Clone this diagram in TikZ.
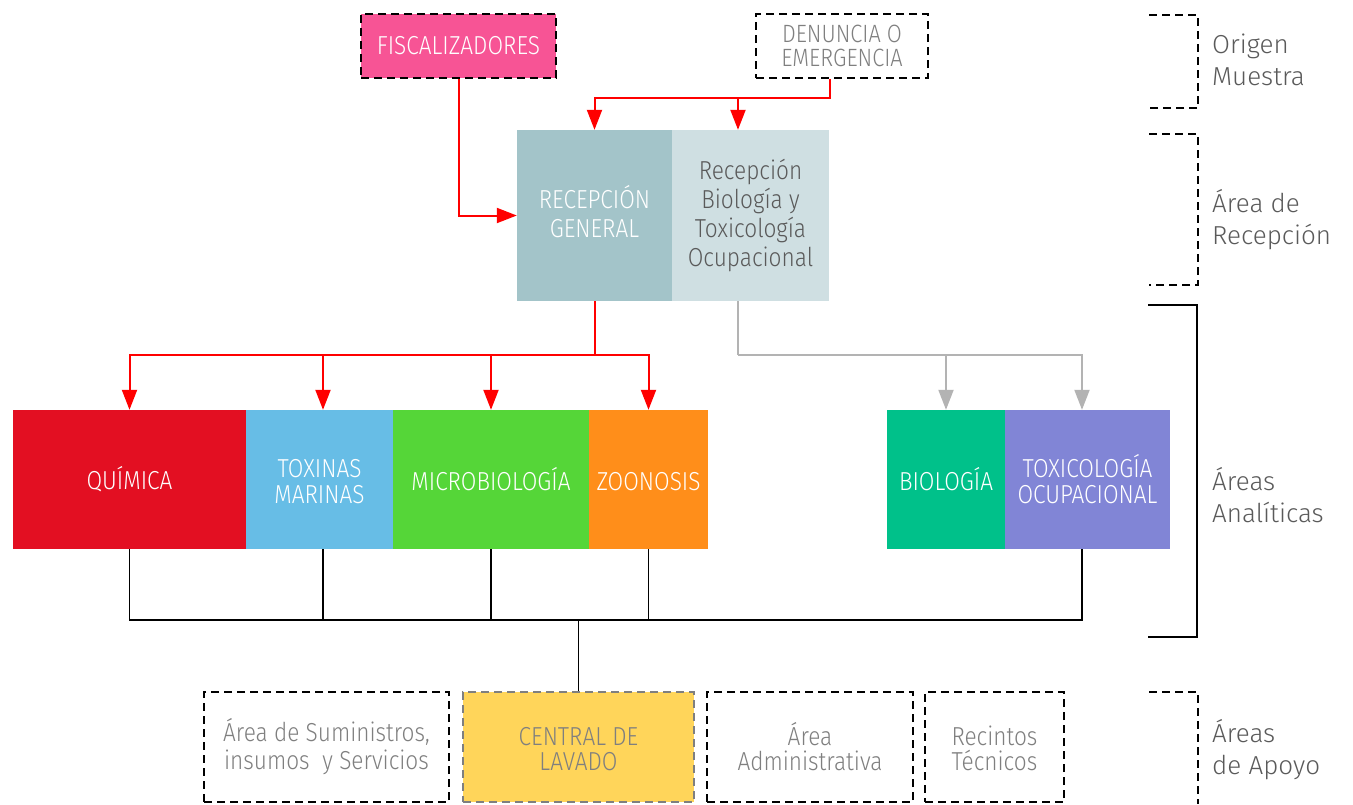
\documentclass[tikz,border=0pt]{standalone}
\usepackage{fontspec}
\setmainfont{Fira Sans Light}
\newfontfamily\boxfont[FakeStretch=0.87]{Fira Sans Light}
\usetikzlibrary{arrows.meta}

\definecolor{fispink}{HTML}{F75495}
\definecolor{recdark}{HTML}{A3C4C9}
\definecolor{reclight}{HTML}{CFDFE2}
\definecolor{quired}{HTML}{E30F22}
\definecolor{toxblue}{HTML}{67BDE6}
\definecolor{micgreen}{HTML}{55D638}
\definecolor{zooorange}{HTML}{FF8E1A}
\definecolor{bioteal}{HTML}{00C18A}
\definecolor{toxpurple}{HTML}{8185D6}
\definecolor{lavyellow}{HTML}{FFD55A}
\definecolor{arrowred}{HTML}{FF0000}
\definecolor{arrowgray}{HTML}{B3B3B3}
\definecolor{textgray}{HTML}{7F7F7F}
\definecolor{darktext}{HTML}{5A5A5A}

% raises the first line to accent height so capitals sit a little low
\newcommand\acc{\vphantom{Á}}
% extra depth on the last line lifts a text block
\newcommand\lift[1]{\rule[-#1]{0pt}{#1}}

\tikzset{
  area/.style={rectangle, inner sep=0pt, align=center, text=white,
    font=\boxfont\fontsize{26}{26}\selectfont},
  dbox/.style={area, draw=black, line width=2pt, dash pattern=on 8pt off 5pt, text=textgray},
  redln/.style={draw=arrowred, line width=2pt},
  redarr/.style={redln, -{Triangle[length=20pt,width=15pt]}},
  grayln/.style={draw=arrowgray, line width=2pt},
  grayarr/.style={grayln, -{Triangle[length=20pt,width=15pt]}},
  bus/.style={draw=black, line width=1.5pt},
  bracketd/.style={draw=black, line width=2pt, dash pattern=on 8pt off 5pt},
  brackets/.style={draw=black, line width=1.5pt},
  sidelabel/.style={anchor=west, align=left, inner sep=0pt, text=darktext,
    font=\fontsize{26}{32}\selectfont}
}

\begin{document}
\begin{tikzpicture}[x=1pt,y=-1pt]
\useasboundingbox (0,0) rectangle (1353,804);

% origin of samples
\node[dbox, fill=fispink, text=white, minimum width=195pt, minimum height=64pt] (fis) at (458.5,46) {FISCALIZADORES};
\node[dbox, fill=white, minimum width=172pt, minimum height=64pt, font=\boxfont\fontsize{25}{24}\selectfont] (den) at (842,46) {DENUNCIA O\\EMERGENCIA};

% reception
\node[area, fill=recdark, minimum width=155pt, minimum height=171pt, font=\boxfont\fontsize{26}{29}\selectfont] (rg) at (594.5,215.5) {RECEPCIÓN\\GENERAL\lift{8pt}};
\node[area, fill=reclight, text=darktext, minimum width=157pt, minimum height=171pt, font=\boxfont\fontsize{26}{29}\selectfont] (rb) at (750.5,215.5) {Recepción\\Biología y\\Toxicología\\Ocupacional};

% analytical areas
\node[area, fill=quired, minimum width=233pt, minimum height=139pt] (qu) at (129.5,479.5) {QUÍMICA};
\node[area, fill=toxblue, minimum width=147pt, minimum height=139pt] (tm) at (319.5,479.5) {\acc TOXINAS\\MARINAS};
\node[area, fill=micgreen, minimum width=196pt, minimum height=139pt] (mi) at (491,479.5) {MICROBIOLOGÍA};
\node[area, fill=zooorange, minimum width=119pt, minimum height=139pt] (zo) at (648.5,479.5) {\acc ZOONOSIS};
\node[area, fill=bioteal, minimum width=118pt, minimum height=139pt] (bi) at (946,479.5) {BIOLOGÍA};
\node[area, fill=toxpurple, minimum width=165pt, minimum height=139pt] (to) at (1087.5,479.5) {TOXICOLOGÍA\\OCUPACIONAL};

% support areas
\tikzset{sup/.style={dbox, minimum height=110pt, font=\boxfont\fontsize{26}{25}\selectfont}}
\node[sup, minimum width=245pt] (sum) at (326.5,747) {Área de Suministros,\\insumos\ \ y Servicios\vphantom{Á}};
\node[sup, fill=lavyellow, draw=textgray, minimum width=231pt] (cl) at (578.5,747) {\acc CENTRAL DE\\LAVADO};
\node[sup, minimum width=206pt] (adm) at (810,747) {Área\\Administrativa};
\node[sup, minimum width=139pt] (rec) at (994.5,747) {\acc Recintos\\Técnicos};

% sample flow into reception
\coordinate (rtop) at (738,98);
\draw[redarr] ([xshift=-12pt]den.south) |- (rtop) -| (rg.north);
\draw[redarr] (rtop) -- (rtop |- rb.north);
\draw[redarr] (fis.south) |- (rg.west);

% general reception to laboratories
\coordinate (rmid) at (594.5,355);
\draw[redln] (rg.south) -- (rmid);
\draw[redarr] (rmid) -| (qu.north);
\draw[redarr] (rmid) -| ([xshift=3.5pt]tm.north);
\draw[redarr] (rmid) -| (mi.north);
\draw[redarr] (rmid) -| (zo.north);

% biology / toxicology reception
\coordinate (gmid) at (738,355);
\draw[grayln] (rb.south -| gmid) -- (gmid);
\draw[grayarr] (gmid) -| (bi.north);
\draw[grayarr] (gmid) -| ([xshift=-5.5pt]to.north);

% laboratories to washing unit
\coordinate (bmid) at (578.5,620);
\draw[bus] (qu.south) |- (bmid);
\draw[bus] ([xshift=-5.5pt]to.south) |- (bmid);
\draw[bus] ([xshift=3.5pt]tm.south) -- ([xshift=3.5pt]tm.south |- bmid);
\draw[bus] (mi.south) -- (mi.south |- bmid);
\draw[bus] (zo.south) -- (zo.south |- bmid);
\draw[bus] (bmid) -- (cl.north);

% side brackets and labels
\draw[bracketd] (1149,15) -- (1198,15) -- (1198,108) -- (1149,108);
\node[sidelabel] (lo) at (1212,60) {Origen\\Muestra};
\draw[bracketd] (1149,134) -- (1198,134) -- (1198,285) -- (1149,285);
\node[sidelabel] (lr) at (1212,220) {Área de\\Recepción};
\draw[brackets] (1148,305) -- (1197,305) -- (1197,637) -- (1148,637);
\node[sidelabel] (la) at (1212,495) {Áreas\\Analíticas};
\draw[bracketd] (1149,692) -- (1198,692) -- (1198,804);
\node[sidelabel] (lp) at (1212,750) {Áreas\\de Apoyo};
\end{tikzpicture}
\end{document}
